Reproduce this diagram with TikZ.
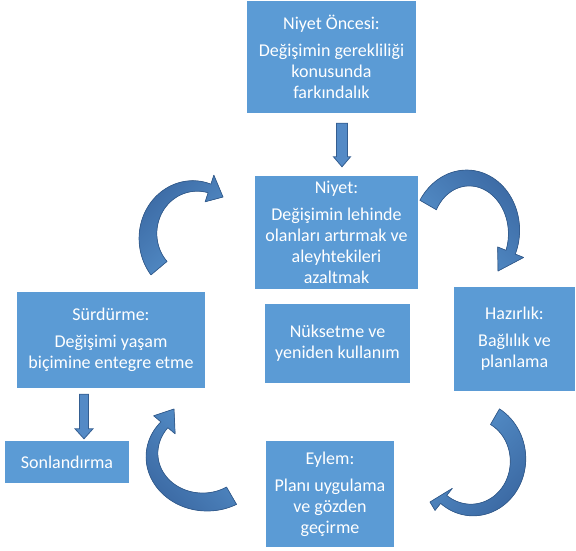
\documentclass[tikz,border=0pt]{standalone}
\usepackage{fontspec}
\setmainfont{Carlito}
\usetikzlibrary{calc}
\definecolor{boxblue}{RGB}{91,155,213}
\definecolor{arrowdark}{RGB}{60,106,164}
\definecolor{arrowlight}{RGB}{88,148,206}
\definecolor{arrowline}{RGB}{52,94,145}
\definecolor{blockfill}{RGB}{84,138,198}
\newcommand{\hw}{14}
\newcommand{\shadeang}{0}
% #1 cx #2 cy #3 rx #4 ry #5 t tail #6 t head base #7 w tail #8 w head #9 tip coordinate
\newcommand{\carrow}[9]{%
  \filldraw[curvearrow=\shadeang]
    plot[domain=#5:#6,samples=50,variable=\t]
      ({#1+(#3+((#7)+((#8)-(#7))*(\t-(#5))/((#6)-(#5)))/2)*cos(\t)},
       {#2-(#4+((#7)+((#8)-(#7))*(\t-(#5))/((#6)-(#5)))/2)*sin(\t)})
    -- ({#1+(#3+\hw)*cos(#6)},{#2-(#4+\hw)*sin(#6)})
    -- (#9)
    -- ({#1+(#3-\hw)*cos(#6)},{#2-(#4-\hw)*sin(#6)})
    -- plot[domain=#6:#5,samples=50,variable=\t]
      ({#1+(#3-((#7)+((#8)-(#7))*(\t-(#5))/((#6)-(#5)))/2)*cos(\t)},
       {#2-(#4-((#7)+((#8)-(#7))*(\t-(#5))/((#6)-(#5)))/2)*sin(\t)})
    -- cycle;}
\begin{document}
\begin{tikzpicture}[x=1pt,y=-1pt,
  box/.style={fill=boxblue, text=white, align=center, inner sep=0pt,
    font=\fontsize{18}{21}\selectfont},
  curvearrow/.style={left color=arrowdark, right color=arrowlight, shading angle=#1,
    draw=arrowline, line width=0.7pt, line join=round},
  blockarrow/.style={fill=blockfill, draw=arrowline, line width=0.8pt}]
\useasboundingbox (0,0) rectangle (576,551);

\node[box, minimum width=169pt, minimum height=112pt] (pre) at (331.5,57)
  {Niyet Öncesi:\\[6pt]Değişimin gerekliliği\\konusunda\\farkındalık};
\node[box, minimum width=163pt, minimum height=113pt] (niyet) at (336.5,232.5)
  {Niyet:\\[6pt]Değişimin lehinde\\olanları artırmak ve\\aleyhtekileri\\azaltmak};
\node[box, minimum width=121pt, minimum height=104pt] (haz) at (514.5,339)
  {Hazırlık:\\[6pt]Bağlılık ve\\planlama};
\node[box, minimum width=145pt, minimum height=79pt] (nuk) at (337.5,343.5)
  {Nüksetme ve\\yeniden kullanım};
\node[box, minimum width=188pt, minimum height=96pt] (surd) at (111,340)
  {Sürdürme:\\[6pt]Değişimi yaşam\\biçimine entegre etme};
\node[box, minimum width=124pt, minimum height=42pt] (son) at (67,462)
  {Sonlandırma};
\node[box, minimum width=128pt, minimum height=106pt] (eylem) at (330,494)
  {Eylem:\\[6pt]Planı uygulama\\ve gözden\\geçirme};

% straight block arrows
\coordinate (a1s) at ($(pre.south)+(10.5,10)$);
\coordinate (a1e) at ($(niyet.north)+(5.5,-9)$);
\filldraw[blockarrow] ($(a1s)+(-5.5,0)$) -- ($(a1e)+(-5.5,-10)$) -- ($(a1e)+(-8.5,-10)$)
  -- (a1e) -- ($(a1e)+(8.5,-10)$) -- ($(a1e)+(5.5,-10)$) -- ($(a1s)+(5.5,0)$) -- cycle;
\coordinate (a2s) at ($(surd.south)+(-27,6)$);
\coordinate (a2e) at ($(son.north)+(17,-2)$);
\filldraw[blockarrow] ($(a2s)+(-4.5,0)$) -- ($(a2e)+(-4.5,-10)$) -- ($(a2e)+(-9,-10)$)
  -- (a2e) -- ($(a2e)+(9,-10)$) -- ($(a2e)+(4.5,-10)$) -- ($(a2s)+(4.5,0)$) -- cycle;

% curved arrows
\coordinate (tipA) at (223,197);
\renewcommand{\shadeang}{45}
\carrow{195}{236}{47}{50}{220}{72}{21}{9}{tipA}
\coordinate (tipB) at (498,271);
\renewcommand{\shadeang}{-45}
\carrow{468}{232}{46}{54}{150}{-22}{19}{10}{tipB}
\coordinate (tipC) at (430,502);
\renewcommand{\shadeang}{225}
\carrow{472}{460}{46}{50}{60}{-128}{18}{10}{tipC}
\coordinate (tipD) at (174,409);
\renewcommand{\shadeang}{135}
\carrow{205}{455}{53}{47}{-60}{-220}{20}{9}{tipD}
\end{tikzpicture}
\end{document}
